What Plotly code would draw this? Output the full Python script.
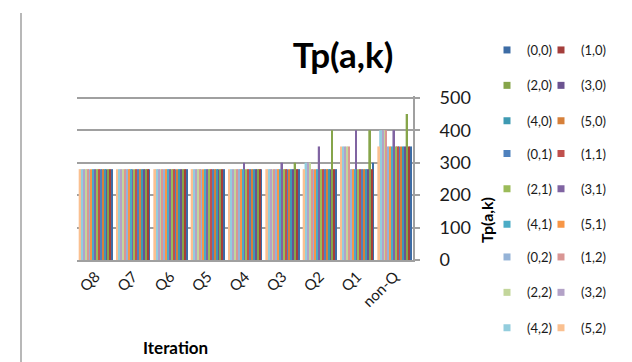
import plotly.graph_objects as go

categories = ["non-Q", "Q1", "Q2", "Q3", "Q4", "Q5", "Q6", "Q7", "Q8"]
series_names = ["(0,0)", "(1,0)", "(2,0)", "(3,0)", "(4,0)", "(5,0)",
                "(0,1)", "(1,1)", "(2,1)", "(3,1)", "(4,1)", "(5,1)",
                "(0,2)", "(1,2)", "(2,2)", "(3,2)", "(4,2)", "(5,2)"]
colors = ["#3D6CA5", "#A43E3B", "#86A54A", "#6B5390", "#3E9AB2", "#D6803A",
          "#4F81BD", "#C0504D", "#9BBB59", "#8064A2", "#4BACC6", "#F79646",
          "#95B3D7", "#D99694", "#C3D69B", "#B3A2C7", "#93CDDD", "#FAC090"]

# values per series, in category order: non-Q, Q1, Q2, Q3, Q4, Q5, Q6, Q7, Q8
values = {
    "(0,0)": [350, 300, 280, 280, 280, 280, 280, 280, 280],
    "(1,0)": [350, 280, 280, 280, 280, 280, 280, 280, 280],
    "(2,0)": [450, 400, 400, 300, 280, 280, 280, 280, 280],
    "(3,0)": [350, 280, 280, 280, 280, 280, 280, 280, 280],
    "(4,0)": [350, 280, 280, 280, 280, 280, 280, 280, 280],
    "(5,0)": [350, 280, 280, 280, 280, 280, 280, 280, 280],
    "(0,1)": [350, 280, 280, 280, 280, 280, 280, 280, 280],
    "(1,1)": [350, 280, 280, 280, 280, 280, 280, 280, 280],
    "(2,1)": [350, 280, 280, 280, 280, 280, 280, 280, 280],
    "(3,1)": [400, 400, 350, 300, 300, 280, 280, 280, 280],
    "(4,1)": [350, 280, 280, 280, 280, 280, 280, 280, 280],
    "(5,1)": [350, 280, 280, 280, 280, 280, 280, 280, 280],
    "(0,2)": [350, 280, 280, 280, 280, 280, 280, 280, 280],
    "(1,2)": [400, 350, 280, 280, 280, 280, 280, 280, 280],
    "(2,2)": [400, 350, 300, 280, 280, 280, 280, 280, 280],
    "(3,2)": [400, 350, 300, 280, 280, 280, 280, 280, 280],
    "(4,2)": [400, 350, 300, 280, 280, 280, 280, 280, 280],
    "(5,2)": [350, 350, 280, 280, 280, 280, 280, 280, 280],
}
y_ticks = [0, 100, 200, 300, 400, 500]

FONT = "Lato"
GRID = "#A0A0A0"

fig = go.Figure()
for i, name in enumerate(series_names):
    fig.add_trace(go.Bar(
        x=categories, y=values[name], name=name,
        marker=dict(color=colors[i], line=dict(width=0)),
        showlegend=False,
    ))

# legend entries: two columns, split in blocks of three rows
legend_ids = {}
for i, name in enumerate(series_names):
    a, k = i % 6, i // 6
    col = a % 2
    lid = col * 3 + k + 1
    legend_ids[lid] = (col, k)
    fig.add_trace(go.Scatter(
        x=[None], y=[None], mode="markers", name=name,
        marker=dict(symbol="square", size=7, color=colors[i]),
        legend="legend" if lid == 1 else f"legend{lid}",
        legendgroup=name, showlegend=True,
    ))

legend_layout = {}
for lid, (col, k) in legend_ids.items():
    key = "legend" if lid == 1 else f"legend{lid}"
    legend_layout[key] = dict(
        xref="container", yref="container", xanchor="left", yanchor="top",
        x=(487 if col == 0 else 541) / 632,
        y=1 - (35 + k * 103.5) / 362,
        font=dict(family=FONT, size=13, color="#1a1a1a"),
        bgcolor="rgba(0,0,0,0)", tracegroupgap=15.5, itemwidth=30,
        orientation="v",
    )

fig.update_layout(
    width=632, height=362,
    margin=dict(l=77, r=219, t=96, b=102, autoexpand=False),
    paper_bgcolor="white", plot_bgcolor="white",
    barmode="group", bargap=0.09, bargroupgap=0,
    title=dict(text="<b>Tp(a,k)</b>", x=343 / 632, xanchor="center",
               y=1 - 56 / 362, yanchor="middle",
               font=dict(family=FONT, size=35, color="black")),
    xaxis=dict(
        type="category", autorange="reversed", tickangle=-45,
        tickfont=dict(family=FONT, size=15, color="#1a1a1a"),
        showline=True, linecolor=GRID, linewidth=2,
        showgrid=False, ticks="", ticklen=0, automargin=False,
    ),
    yaxis=dict(
        side="right", range=[0, 505.5], tickvals=y_ticks,
        tickfont=dict(family=FONT, size=18, color="#1a1a1a"),
        showgrid=True, gridcolor=GRID, gridwidth=2,
        showline=True, linecolor=GRID, linewidth=2,
        ticks="outside", ticklen=5, tickcolor=GRID, tickwidth=2,
        ticklabelstandoff=16, automargin=False,
        zeroline=False,
    ),
    annotations=[
        dict(
            text="<b>Iteration</b>", xref="paper", yref="paper",
            x=(175 - 77) / 336, y=(260 - 347) / 164, xanchor="center", yanchor="middle",
            showarrow=False, font=dict(family=FONT, size=17, color="black"),
        ),
        dict(
            text="<b>Tp(a,k)</b>", xref="paper", yref="paper",
            x=(486 - 77) / 336, y=(260 - 220) / 164, xanchor="center", yanchor="middle",
            textangle=-90, showarrow=False,
            font=dict(family=FONT, size=16, color="black"),
        ),
    ],
    shapes=[dict(
        type="line", xref="paper", yref="paper",
        x0=(21 - 77) / 336, x1=(21 - 77) / 336,
        y0=(260 - 13) / 164, y1=(260 - 362) / 164,
        line=dict(color="#A0A0A0", width=1.5),
    )],
    **legend_layout,
)

fig.write_html("out.html")
